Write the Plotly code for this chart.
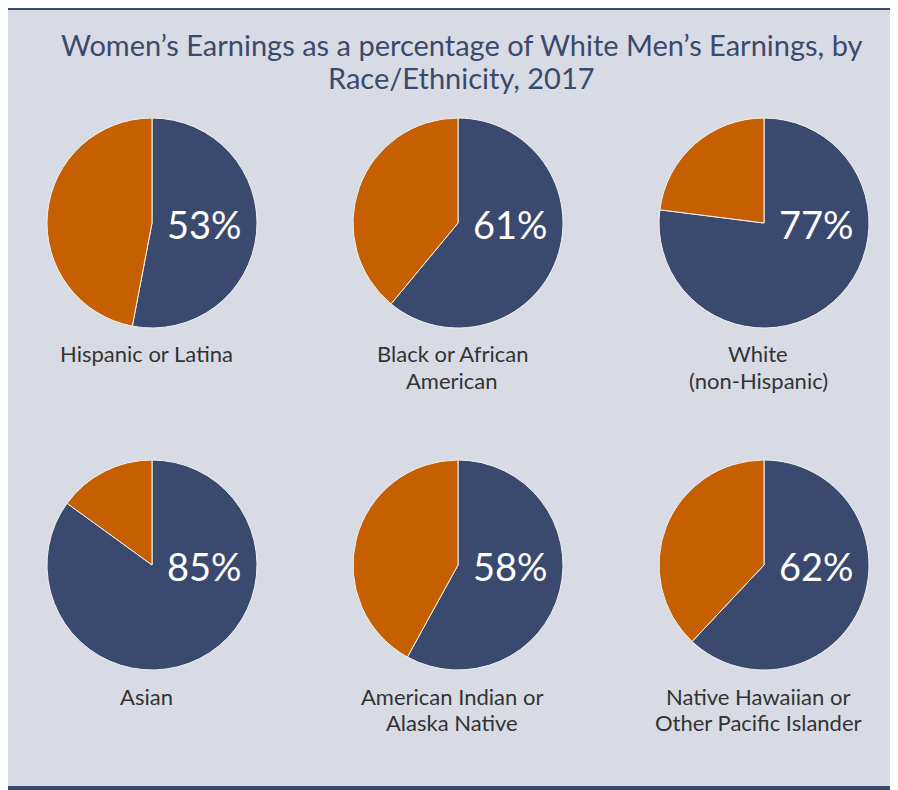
import plotly.graph_objects as go

# DATOS
grupos = ["Hispanic or Latina", "Black or African<br>American", "White<br>(non-Hispanic)",
          "Asian", "American Indian or<br>Alaska Native", "Native Hawaiian or<br>Other Pacific Islander"]
porcentajes = [53, 61, 77, 85, 58, 62]
titulo = ["Women’s Earnings as a percentage of White Men’s Earnings, by", "Race/Ethnicity, 2017"]

# la pagina tiene 8px de margen en el body: la figura empieza en (8, 8)
OFF = 8
W, H = 898 - OFF, 790 - OFF
NAVY = '#3a4a6e'
NARANJA = '#c55f00'
FONDO = '#d9dbe4'


def px(x):
    return (x - OFF) / W


def py(y):
    return 1 - (y - OFF) / H


# centros de cada pastel (px de la pagina)
centros_x = [152, 458, 764]
centros_y = [223, 565]
R = 105

fig = go.Figure()
anotaciones = []

for i, (grupo, pct) in enumerate(zip(grupos, porcentajes)):
    cx = centros_x[i % 3]
    cy = centros_y[i // 3]
    fig.add_trace(go.Pie(
        values=[pct, 100 - pct],
        labels=['Women', 'Gap'],
        sort=False,
        direction='clockwise',
        rotation=0,
        textinfo='none',
        hoverinfo='skip',
        showlegend=False,
        marker=dict(colors=[NAVY, NARANJA], line=dict(color='#f2f2f2', width=1)),
        domain=dict(x=[px(cx - R), px(cx + R)], y=[py(cy + R), py(cy - R)])
    ))
    # porcentaje dentro del pastel
    anotaciones.append(dict(
        text=f'{pct}%', x=px(cx + 52), y=py(cy + 1), xref='paper', yref='paper',
        showarrow=False, xanchor='center', yanchor='middle',
        font=dict(size=38, color='white', family='Lato')
    ))
    # etiqueta de grupo, linea por linea
    for k, linea in enumerate(grupo.split('<br>')):
        anotaciones.append(dict(
            text=linea, x=px(cx - 6), y=py(cy + 131 + 26 * k), xref='paper', yref='paper',
            showarrow=False, xanchor='center', yanchor='middle',
            font=dict(size=22, color='#333333', family='Lato')
        ))

# titulo
for k, linea in enumerate(titulo):
    anotaciones.append(dict(
        text=linea, x=px(461), y=py(44 + 33 * k), xref='paper', yref='paper', showarrow=False,
        xanchor='center', yanchor='middle',
        font=dict(size=29, color=NAVY, family='Lato')
    ))

formas = [
    dict(type='rect', xref='paper', yref='paper', x0=0, x1=1, y0=py(10), y1=1,
         fillcolor=NAVY, line=dict(width=0), layer='below'),
    dict(type='rect', xref='paper', yref='paper', x0=0, x1=1, y0=0, y1=py(786),
         fillcolor=NAVY, line=dict(width=0), layer='below'),
]

fig.update_layout(
    width=W, height=H,
    margin=dict(l=0, r=0, t=0, b=0),
    paper_bgcolor=FONDO,
    plot_bgcolor=FONDO,
    annotations=anotaciones,
    shapes=formas,
    font=dict(family='Lato')
)

fig.write_html("out.html")
